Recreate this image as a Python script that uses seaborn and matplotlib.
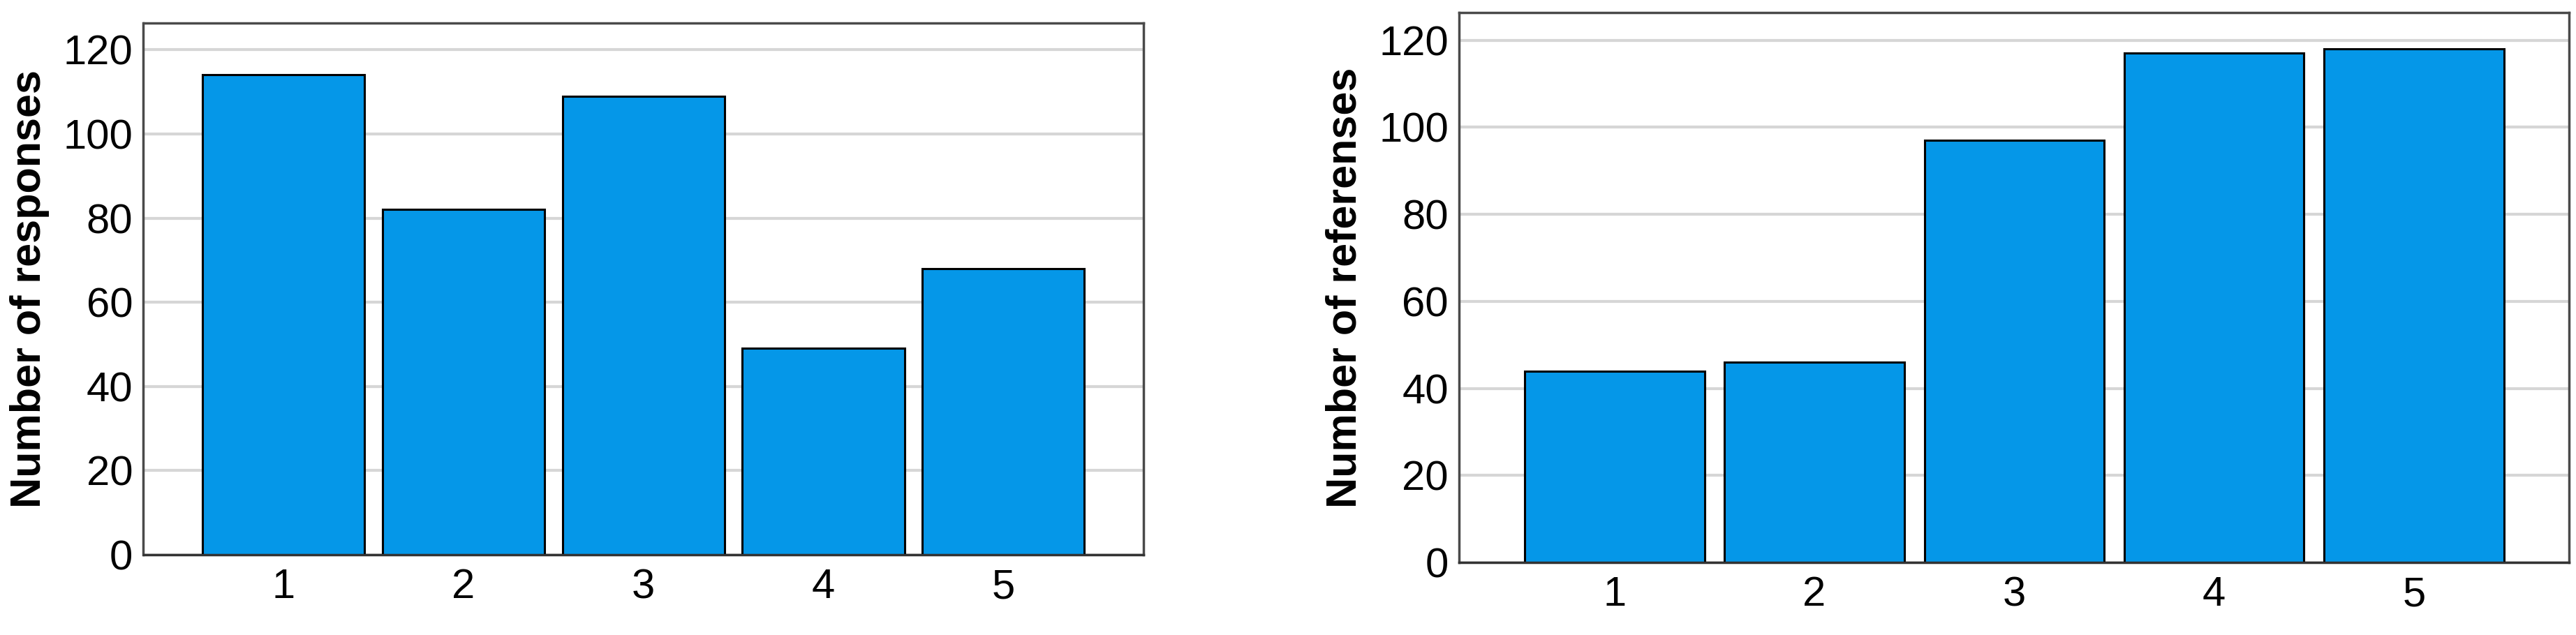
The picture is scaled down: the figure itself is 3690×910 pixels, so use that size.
import matplotlib
matplotlib.use("Agg")
import matplotlib.pyplot as plt
import seaborn as sns
import pandas as pd

categories = ["1", "2", "3", "4", "5"]
responses = [114, 82, 109, 49, 68]
references = [44, 46, 97, 117, 118]
yticks = [0, 20, 40, 60, 80, 100, 120]
left_ylabel = "Number of responses"
right_ylabel = "Number of referenses"

sns.set_theme(style="white")
plt.rcParams['font.family'] = ['Liberation Sans', 'DejaVu Sans']

BAR_COLOR = "#0597E8"

fig = plt.figure(figsize=(36.91, 9.10), dpi=100)
ax1 = fig.add_axes([205.5 / 3691, (910 - 795) / 910, 1432.2 / 3691, 761.7 / 910])
ax2 = fig.add_axes([2090.3 / 3691, (910 - 806) / 910, 1590.1 / 3691, 787.7 / 910])

for ax, vals, lab in [(ax1, responses, left_ylabel), (ax2, references, right_ylabel)]:
    df = pd.DataFrame({"cat": categories, "val": vals})
    sns.barplot(data=df, x="cat", y="val", ax=ax, color=BAR_COLOR, saturation=1,
                edgecolor="black", linewidth=2.2, width=0.9, zorder=3)
    ax.set_xlim(-0.777, 4.777)
    ax.set_ylim(0, 126.3)
    ax.set_yticks(yticks)
    ax.set_yticklabels([str(t) for t in yticks])
    ax.yaxis.grid(True, color="#d6d6d6", linewidth=3, zorder=0)
    ax.xaxis.grid(False)
    ax.set_axisbelow(True)
    for s in ax.spines.values():
        s.set_visible(True)
        s.set_color("#4a4a4a")
        s.set_linewidth(2.5)
    ax.spines["bottom"].set_color("#333333")
    ax.spines["bottom"].set_zorder(4)
    ax.tick_params(axis="y", length=0, pad=11, labelsize=43, labelcolor="black")
    ax.tick_params(axis="x", length=0, pad=14, labelsize=43, labelcolor="black")
    ax.set_xlabel("")
    ax.set_ylabel(lab, fontsize=44, fontweight="bold", color="black", labelpad=14)

fig.savefig("out.png", dpi=100, facecolor="white")
